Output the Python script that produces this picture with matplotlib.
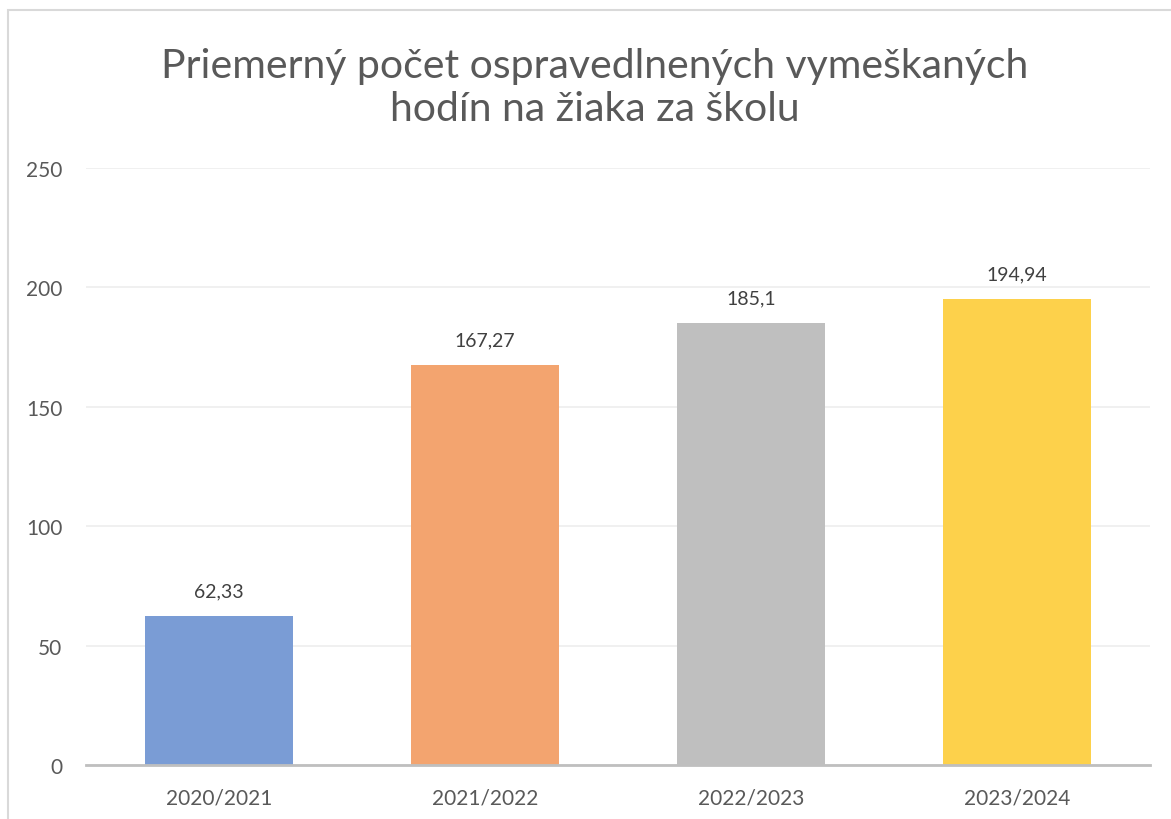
import matplotlib
matplotlib.use("Agg")
from matplotlib import pyplot as plt
from matplotlib.patches import Rectangle

years = ["2020/2021", "2021/2022", "2022/2023", "2023/2024"]
hours = [62.33, 167.27, 185.1, 194.94]
labels = ["62,33", "167,27", "185,1", "194,94"]
colors = ["#7A9CD5", "#F3A46F", "#BFBFBF", "#FDD14B"]

plt.rcParams["font.family"] = ["Lato", "DejaVu Sans"]

fig = plt.figure(figsize=(11.71, 8.20), dpi=100)
ax = fig.add_axes([0.0734, 0.0659, 0.9086, 0.7281])

# chart frame, cut off at right and bottom like the screenshot
fig.patches.append(Rectangle((8 / 1171, -0.01), 1.0, 1 - 11 / 820 + 0.01,
                             transform=fig.transFigure, fill=False,
                             edgecolor="#D9D9D9", linewidth=1.5))

x = range(len(years))
ax.bar(x, hours, width=0.556, color=colors, zorder=2)

for i, (v, lab) in enumerate(zip(hours, labels)):
    ax.annotate(lab, (i, v), xytext=(0, 12), textcoords="offset points",
                ha="center", va="bottom", fontsize=14, color="#404040")

ax.set_xlim(-0.5, len(years) - 0.5)
ax.set_ylim(0, 250)
ax.set_yticks(range(0, 251, 50))
ax.set_xticks(list(x))
ax.set_xticklabels(years)
ax.grid(axis="y", color="#EDEDED", linewidth=1.2, zorder=0)
for s in ["top", "right", "left"]:
    ax.spines[s].set_visible(False)
ax.spines["bottom"].set_color("#BFBFBF")
ax.spines["bottom"].set_linewidth(2)
ax.spines["bottom"].set_zorder(3)
ax.tick_params(axis="both", length=0, labelsize=15, labelcolor="#595959")
ax.tick_params(axis="y", pad=17)
ax.tick_params(axis="x", pad=16)

fig.text(0.508, 0.893, "Priemerný počet ospravedlnených vymeškaných\nhodín na žiaka za školu",
         ha="center", va="center", fontsize=29.5, color="#595959", linespacing=1.2)

fig.savefig("out.png", dpi=100)
